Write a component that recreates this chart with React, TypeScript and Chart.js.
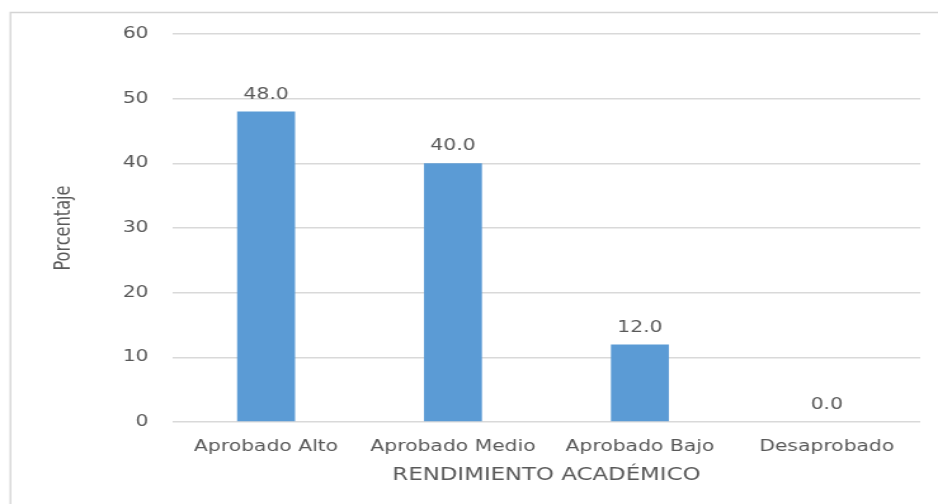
import React, { useEffect, useRef } from "react";
import { Chart, registerables } from "chart.js";

Chart.register(...registerables);

const categories = ["Aprobado Alto", "Aprobado Medio", "Aprobado Bajo", "Desaprobado"];
const values = [48.0, 40.0, 12.0, 0.0];
const yTicks = { min: 0, max: 60, step: 10 };
const xTitle = "RENDIMIENTO ACADÉMICO";
const yTitle = "Porcentaje";

const TEXT = "#595959";
const GRID = "#d9d9d9";
const BAR = "#5B9BD5";
const FONT = "'DejaVu Sans', sans-serif";

// The reference picture is stretched horizontally; we draw on a narrower canvas and stretch it.
const PAGE_W = 938;
const PAGE_H = 504;
const CANVAS_W = 739;
const STRETCH = PAGE_W / CANVAS_W;

const frame = {
  id: "frame",
  beforeDraw(chart: any) {
    const ctx = chart.ctx;
    ctx.save();
    ctx.fillStyle = "#ffffff";
    ctx.fillRect(0, 0, chart.width, chart.height);
    ctx.strokeStyle = "#d4d4d4";
    ctx.lineWidth = 1.3;
    ctx.beginPath();
    ctx.moveTo(8.2, chart.height);
    ctx.lineTo(8.2, 12.5);
    ctx.lineTo(chart.width, 12.5);
    ctx.stroke();
    ctx.restore();
  },
};

const valueLabels = {
  id: "valueLabels",
  afterDatasetsDraw(chart: any) {
    const ctx = chart.ctx;
    const meta = chart.getDatasetMeta(0);
    ctx.save();
    ctx.font = `16px ${FONT}`;
    ctx.fillStyle = TEXT;
    ctx.textAlign = "center";
    ctx.textBaseline = "bottom";
    meta.data.forEach((bar: any, i: number) => {
      const v = chart.data.datasets[0].data[i] as number;
      ctx.fillText(v.toFixed(1), bar.x, bar.y - 9);
    });
    ctx.restore();
  },
};

export default function App() {
  const ref = useRef<HTMLCanvasElement>(null);
  useEffect(() => {
    if (!ref.current) return;
    const chart = new Chart(ref.current, {
      type: "bar",
      data: {
        labels: categories,
        datasets: [
          {
            data: values,
            backgroundColor: BAR,
            borderWidth: 0,
            categoryPercentage: 1,
            barPercentage: 0.31,
          },
        ],
      },
      options: {
        animation: false,
        responsive: false,
        devicePixelRatio: 1,
        layout: { padding: { left: 40, right: 14, top: 34, bottom: 0 } },
        plugins: { legend: { display: false }, tooltip: { enabled: false } },
        scales: {
          x: {
            grid: { display: false },
            border: { display: false },
            ticks: {
              color: TEXT,
              font: { family: FONT, size: 16 },
              padding: 7,
              maxRotation: 0,
              autoSkip: false,
            },
            title: {
              display: true,
              text: xTitle,
              color: TEXT,
              font: { family: FONT, size: 18 },
              padding: { top: 0, bottom: 18 },
            },
            afterFit(scale: any) {
              scale.height = 82;
            },
          },
          y: {
            min: yTicks.min,
            max: yTicks.max,
            ticks: {
              stepSize: yTicks.step,
              color: TEXT,
              font: { family: FONT, size: 16 },
              padding: 19,
            },
            grid: { color: GRID, lineWidth: 1.5, drawTicks: false },
            border: { display: false },
            title: {
              display: true,
              text: yTitle,
              color: TEXT,
              font: { family: "'DejaVu Sans Condensed', 'DejaVu Sans', sans-serif", size: 18 },
              padding: { top: 0, bottom: 0 },
            },
            afterFit(scale: any) {
              scale.width = 96;
            },
          },
        },
      },
      plugins: [frame, valueLabels],
    });
    return () => chart.destroy();
  }, []);
  return (
    <div
      style={{
        position: "fixed",
        left: 0,
        top: 0,
        width: CANVAS_W,
        height: PAGE_H,
        transform: `scaleX(${STRETCH})`,
        transformOrigin: "0 0",
      }}
    >
      <canvas ref={ref} width={CANVAS_W} height={PAGE_H} style={{ display: "block" }} />
    </div>
  );
}
